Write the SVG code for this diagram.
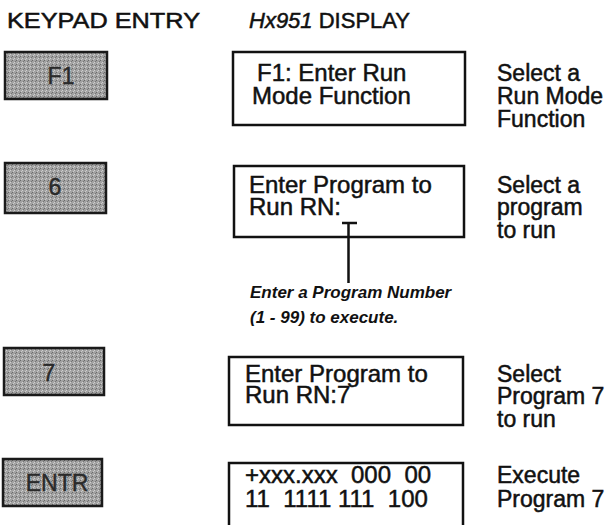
<svg xmlns="http://www.w3.org/2000/svg" width="609" height="525" viewBox="0 0 609 525">
<defs>
<pattern id="speck" width="4" height="4" patternUnits="userSpaceOnUse">
<rect width="4" height="4" fill="#a2a2a2"/>
<rect x="0" y="0" width="1" height="1" fill="#6a6a6a"/>
<rect x="2" y="2" width="1" height="1" fill="#d0d0d0"/>
<rect x="3" y="1" width="1" height="1" fill="#767676"/>
<rect x="1" y="3" width="1" height="1" fill="#cbcbcb"/>
</pattern>
</defs>
<style>
.t{font-family:"Liberation Sans",Arial,sans-serif;fill:#111;stroke:#111;stroke-width:0.5}
.hd{font-size:22px}
.disp{font-size:24px}
.side{font-size:23px}
.key{fill:url(#speck);stroke:#1a1a1a;stroke-width:2.5}
.keyt{font-family:"Liberation Sans",Arial,sans-serif;font-size:23px;fill:#2a2a2a;stroke:#2a2a2a;stroke-width:0.4;text-anchor:middle}
.box{fill:#fff;stroke:#111;stroke-width:2.5}
.note{font-family:"Liberation Sans",Arial,sans-serif;font-size:17px;font-style:italic;font-weight:bold;fill:#111}
.ln{stroke:#111;stroke-width:2.5;fill:none}
</style>
<rect width="609" height="525" fill="#fff"/>
<g id="headers">
<text class="t hd" x="7" y="28" textLength="193" lengthAdjust="spacingAndGlyphs">KEYPAD ENTRY</text>
<text class="t hd" x="249" y="28"><tspan font-style="italic">Hx951</tspan> DISPLAY</text>
</g>
<g id="key-f1">
<rect class="key" x="5" y="52" width="102" height="47"/>
<text class="keyt" x="61" y="84">F1</text>
</g>
<g id="disp-1">
<rect class="box" x="233" y="52" width="232" height="73"/>
<text class="t disp" x="257" y="81">F1: Enter Run</text>
<text class="t disp" x="252" y="104">Mode Function</text>
</g>
<g id="desc-1">
<text class="t side" x="497" y="81">Select a</text>
<text class="t side" x="497" y="104">Run Mode</text>
<text class="t side" x="497" y="127">Function</text>
</g>
<g id="key-6">
<rect class="key" x="5" y="163" width="101" height="50"/>
<text class="keyt" x="55" y="195">6</text>
</g>
<g id="disp-2">
<rect class="box" x="234" y="166" width="230" height="71"/>
<text class="t disp" x="249" y="193">Enter Program to</text>
<text class="t disp" x="249" y="215">Run RN:</text>
</g>
<g id="desc-2">
<text class="t side" x="497" y="193">Select a</text>
<text class="t side" x="497" y="215">program</text>
<text class="t side" x="497" y="238">to run</text>
</g>
<g id="connectors">
<path class="ln" d="M342 223 H357 M348.5 223 V283"/>
</g>
<g id="note">
<text class="note" x="250" y="298">Enter a Program Number</text>
<text class="note" x="250" y="323">(1 - 99) to execute.</text>
</g>
<g id="key-7">
<rect class="key" x="4" y="348" width="100" height="47"/>
<text class="keyt" x="49" y="381">7</text>
</g>
<g id="disp-3">
<rect class="box" x="229" y="357" width="234" height="68"/>
<text class="t disp" x="245" y="382">Enter Program to</text>
<text class="t disp" x="245" y="403">Run RN:7</text>
</g>
<g id="desc-3">
<text class="t side" x="497" y="382">Select</text>
<text class="t side" x="497" y="404">Program 7</text>
<text class="t side" x="497" y="427">to run</text>
</g>
<g id="key-entr">
<rect class="key" x="3" y="459" width="99" height="47"/>
<text class="keyt" x="57" y="491">ENTR</text>
</g>
<g id="disp-4">
<rect class="box" x="229" y="463" width="234" height="80"/>
<text class="t disp" x="245" y="483" xml:space="preserve">+xxx.xxx  000  00</text>
<text class="t disp" x="245" y="507" xml:space="preserve">11  1111 111  100</text>
</g>
<g id="desc-4">
<text class="t side" x="497" y="483">Execute</text>
<text class="t side" x="497" y="507">Program 7</text>
</g>
</svg>
